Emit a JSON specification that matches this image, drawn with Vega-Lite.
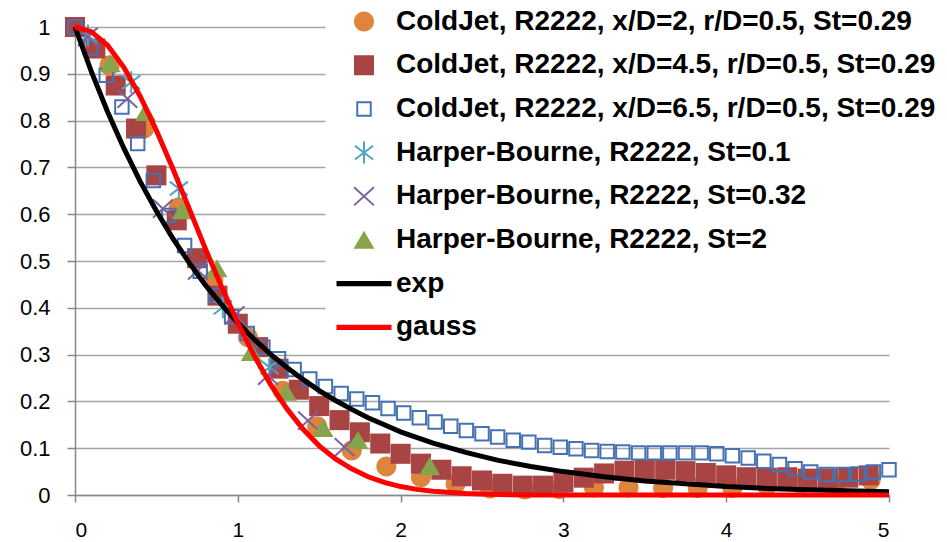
{
  "$schema": "https://vega.github.io/schema/vega-lite/v6.json",
  "width": 814,
  "height": 468,
  "autosize": {"type": "none"},
  "padding": {"left": 75, "top": 27, "right": 58, "bottom": 47},
  "background": "#ffffff",
  "config": {
    "view": {"stroke": null},
    "axis": {"labelFont": "Liberation Sans", "labelFontSize": 22, "labelColor": "#000000", "domainColor": "#878787", "domainWidth": 1.5, "tickColor": "#878787", "tickWidth": 1.5, "gridColor": "#a5a5a5", "gridWidth": 1.5}
  },
  "datasets": {
    "points": [
      {"s": "ColdJet, R2222, x/D=2, r/D=0.5, St=0.29", "x": 0, "y": 1.0},
      {"s": "ColdJet, R2222, x/D=2, r/D=0.5, St=0.29", "x": 0.2125, "y": 0.918},
      {"s": "ColdJet, R2222, x/D=2, r/D=0.5, St=0.29", "x": 0.425, "y": 0.783},
      {"s": "ColdJet, R2222, x/D=2, r/D=0.5, St=0.29", "x": 0.6375, "y": 0.615},
      {"s": "ColdJet, R2222, x/D=2, r/D=0.5, St=0.29", "x": 0.85, "y": 0.459},
      {"s": "ColdJet, R2222, x/D=2, r/D=0.5, St=0.29", "x": 1.0625, "y": 0.337},
      {"s": "ColdJet, R2222, x/D=2, r/D=0.5, St=0.29", "x": 1.275, "y": 0.223},
      {"s": "ColdJet, R2222, x/D=2, r/D=0.5, St=0.29", "x": 1.4875, "y": 0.147},
      {"s": "ColdJet, R2222, x/D=2, r/D=0.5, St=0.29", "x": 1.7, "y": 0.095},
      {"s": "ColdJet, R2222, x/D=2, r/D=0.5, St=0.29", "x": 1.9125, "y": 0.061},
      {"s": "ColdJet, R2222, x/D=2, r/D=0.5, St=0.29", "x": 2.125, "y": 0.038},
      {"s": "ColdJet, R2222, x/D=2, r/D=0.5, St=0.29", "x": 2.3375, "y": 0.024},
      {"s": "ColdJet, R2222, x/D=2, r/D=0.5, St=0.29", "x": 2.55, "y": 0.014},
      {"s": "ColdJet, R2222, x/D=2, r/D=0.5, St=0.29", "x": 2.7625, "y": 0.012},
      {"s": "ColdJet, R2222, x/D=2, r/D=0.5, St=0.29", "x": 2.975, "y": 0.013},
      {"s": "ColdJet, R2222, x/D=2, r/D=0.5, St=0.29", "x": 3.1875, "y": 0.016},
      {"s": "ColdJet, R2222, x/D=2, r/D=0.5, St=0.29", "x": 3.4, "y": 0.016},
      {"s": "ColdJet, R2222, x/D=2, r/D=0.5, St=0.29", "x": 3.6125, "y": 0.015},
      {"s": "ColdJet, R2222, x/D=2, r/D=0.5, St=0.29", "x": 3.825, "y": 0.015},
      {"s": "ColdJet, R2222, x/D=2, r/D=0.5, St=0.29", "x": 4.0375, "y": 0.015},
      {"s": "ColdJet, R2222, x/D=2, r/D=0.5, St=0.29", "x": 4.25, "y": 0.02},
      {"s": "ColdJet, R2222, x/D=2, r/D=0.5, St=0.29", "x": 4.4625, "y": 0.024},
      {"s": "ColdJet, R2222, x/D=2, r/D=0.5, St=0.29", "x": 4.675, "y": 0.026},
      {"s": "ColdJet, R2222, x/D=2, r/D=0.5, St=0.29", "x": 4.8875, "y": 0.032},
      {"s": "ColdJet, R2222, x/D=4.5, r/D=0.5, St=0.29", "x": 0, "y": 1.0},
      {"s": "ColdJet, R2222, x/D=4.5, r/D=0.5, St=0.29", "x": 0.125, "y": 0.954},
      {"s": "ColdJet, R2222, x/D=4.5, r/D=0.5, St=0.29", "x": 0.25, "y": 0.875},
      {"s": "ColdJet, R2222, x/D=4.5, r/D=0.5, St=0.29", "x": 0.375, "y": 0.783},
      {"s": "ColdJet, R2222, x/D=4.5, r/D=0.5, St=0.29", "x": 0.5, "y": 0.683},
      {"s": "ColdJet, R2222, x/D=4.5, r/D=0.5, St=0.29", "x": 0.625, "y": 0.587},
      {"s": "ColdJet, R2222, x/D=4.5, r/D=0.5, St=0.29", "x": 0.75, "y": 0.506},
      {"s": "ColdJet, R2222, x/D=4.5, r/D=0.5, St=0.29", "x": 0.875, "y": 0.426},
      {"s": "ColdJet, R2222, x/D=4.5, r/D=0.5, St=0.29", "x": 1.0, "y": 0.366},
      {"s": "ColdJet, R2222, x/D=4.5, r/D=0.5, St=0.29", "x": 1.125, "y": 0.316},
      {"s": "ColdJet, R2222, x/D=4.5, r/D=0.5, St=0.29", "x": 1.25, "y": 0.27},
      {"s": "ColdJet, R2222, x/D=4.5, r/D=0.5, St=0.29", "x": 1.375, "y": 0.225},
      {"s": "ColdJet, R2222, x/D=4.5, r/D=0.5, St=0.29", "x": 1.5, "y": 0.19},
      {"s": "ColdJet, R2222, x/D=4.5, r/D=0.5, St=0.29", "x": 1.625, "y": 0.16},
      {"s": "ColdJet, R2222, x/D=4.5, r/D=0.5, St=0.29", "x": 1.75, "y": 0.134},
      {"s": "ColdJet, R2222, x/D=4.5, r/D=0.5, St=0.29", "x": 1.875, "y": 0.11},
      {"s": "ColdJet, R2222, x/D=4.5, r/D=0.5, St=0.29", "x": 2.0, "y": 0.088},
      {"s": "ColdJet, R2222, x/D=4.5, r/D=0.5, St=0.29", "x": 2.125, "y": 0.067},
      {"s": "ColdJet, R2222, x/D=4.5, r/D=0.5, St=0.29", "x": 2.25, "y": 0.054},
      {"s": "ColdJet, R2222, x/D=4.5, r/D=0.5, St=0.29", "x": 2.375, "y": 0.04},
      {"s": "ColdJet, R2222, x/D=4.5, r/D=0.5, St=0.29", "x": 2.5, "y": 0.031},
      {"s": "ColdJet, R2222, x/D=4.5, r/D=0.5, St=0.29", "x": 2.625, "y": 0.024},
      {"s": "ColdJet, R2222, x/D=4.5, r/D=0.5, St=0.29", "x": 2.75, "y": 0.02},
      {"s": "ColdJet, R2222, x/D=4.5, r/D=0.5, St=0.29", "x": 2.875, "y": 0.02},
      {"s": "ColdJet, R2222, x/D=4.5, r/D=0.5, St=0.29", "x": 3.0, "y": 0.027},
      {"s": "ColdJet, R2222, x/D=4.5, r/D=0.5, St=0.29", "x": 3.125, "y": 0.037},
      {"s": "ColdJet, R2222, x/D=4.5, r/D=0.5, St=0.29", "x": 3.25, "y": 0.046},
      {"s": "ColdJet, R2222, x/D=4.5, r/D=0.5, St=0.29", "x": 3.375, "y": 0.052},
      {"s": "ColdJet, R2222, x/D=4.5, r/D=0.5, St=0.29", "x": 3.5, "y": 0.054},
      {"s": "ColdJet, R2222, x/D=4.5, r/D=0.5, St=0.29", "x": 3.625, "y": 0.054},
      {"s": "ColdJet, R2222, x/D=4.5, r/D=0.5, St=0.29", "x": 3.75, "y": 0.051},
      {"s": "ColdJet, R2222, x/D=4.5, r/D=0.5, St=0.29", "x": 3.875, "y": 0.047},
      {"s": "ColdJet, R2222, x/D=4.5, r/D=0.5, St=0.29", "x": 4.0, "y": 0.042},
      {"s": "ColdJet, R2222, x/D=4.5, r/D=0.5, St=0.29", "x": 4.125, "y": 0.038},
      {"s": "ColdJet, R2222, x/D=4.5, r/D=0.5, St=0.29", "x": 4.25, "y": 0.037},
      {"s": "ColdJet, R2222, x/D=4.5, r/D=0.5, St=0.29", "x": 4.375, "y": 0.038},
      {"s": "ColdJet, R2222, x/D=4.5, r/D=0.5, St=0.29", "x": 4.5, "y": 0.035},
      {"s": "ColdJet, R2222, x/D=4.5, r/D=0.5, St=0.29", "x": 4.625, "y": 0.035},
      {"s": "ColdJet, R2222, x/D=4.5, r/D=0.5, St=0.29", "x": 4.75, "y": 0.037},
      {"s": "ColdJet, R2222, x/D=4.5, r/D=0.5, St=0.29", "x": 4.875, "y": 0.042},
      {"s": "ColdJet, R2222, x/D=6.5, r/D=0.5, St=0.29", "x": 0, "y": 1.0},
      {"s": "ColdJet, R2222, x/D=6.5, r/D=0.5, St=0.29", "x": 0.096, "y": 0.955},
      {"s": "ColdJet, R2222, x/D=6.5, r/D=0.5, St=0.29", "x": 0.192, "y": 0.897},
      {"s": "ColdJet, R2222, x/D=6.5, r/D=0.5, St=0.29", "x": 0.288, "y": 0.829},
      {"s": "ColdJet, R2222, x/D=6.5, r/D=0.5, St=0.29", "x": 0.385, "y": 0.751},
      {"s": "ColdJet, R2222, x/D=6.5, r/D=0.5, St=0.29", "x": 0.481, "y": 0.672},
      {"s": "ColdJet, R2222, x/D=6.5, r/D=0.5, St=0.29", "x": 0.577, "y": 0.597},
      {"s": "ColdJet, R2222, x/D=6.5, r/D=0.5, St=0.29", "x": 0.673, "y": 0.533},
      {"s": "ColdJet, R2222, x/D=6.5, r/D=0.5, St=0.29", "x": 0.769, "y": 0.478},
      {"s": "ColdJet, R2222, x/D=6.5, r/D=0.5, St=0.29", "x": 0.865, "y": 0.427},
      {"s": "ColdJet, R2222, x/D=6.5, r/D=0.5, St=0.29", "x": 0.962, "y": 0.381},
      {"s": "ColdJet, R2222, x/D=6.5, r/D=0.5, St=0.29", "x": 1.058, "y": 0.345},
      {"s": "ColdJet, R2222, x/D=6.5, r/D=0.5, St=0.29", "x": 1.154, "y": 0.316},
      {"s": "ColdJet, R2222, x/D=6.5, r/D=0.5, St=0.29", "x": 1.25, "y": 0.291},
      {"s": "ColdJet, R2222, x/D=6.5, r/D=0.5, St=0.29", "x": 1.346, "y": 0.268},
      {"s": "ColdJet, R2222, x/D=6.5, r/D=0.5, St=0.29", "x": 1.442, "y": 0.248},
      {"s": "ColdJet, R2222, x/D=6.5, r/D=0.5, St=0.29", "x": 1.538, "y": 0.232},
      {"s": "ColdJet, R2222, x/D=6.5, r/D=0.5, St=0.29", "x": 1.635, "y": 0.217},
      {"s": "ColdJet, R2222, x/D=6.5, r/D=0.5, St=0.29", "x": 1.731, "y": 0.205},
      {"s": "ColdJet, R2222, x/D=6.5, r/D=0.5, St=0.29", "x": 1.827, "y": 0.197},
      {"s": "ColdJet, R2222, x/D=6.5, r/D=0.5, St=0.29", "x": 1.923, "y": 0.185},
      {"s": "ColdJet, R2222, x/D=6.5, r/D=0.5, St=0.29", "x": 2.019, "y": 0.175},
      {"s": "ColdJet, R2222, x/D=6.5, r/D=0.5, St=0.29", "x": 2.115, "y": 0.165},
      {"s": "ColdJet, R2222, x/D=6.5, r/D=0.5, St=0.29", "x": 2.212, "y": 0.156},
      {"s": "ColdJet, R2222, x/D=6.5, r/D=0.5, St=0.29", "x": 2.308, "y": 0.147},
      {"s": "ColdJet, R2222, x/D=6.5, r/D=0.5, St=0.29", "x": 2.404, "y": 0.138},
      {"s": "ColdJet, R2222, x/D=6.5, r/D=0.5, St=0.29", "x": 2.5, "y": 0.131},
      {"s": "ColdJet, R2222, x/D=6.5, r/D=0.5, St=0.29", "x": 2.596, "y": 0.124},
      {"s": "ColdJet, R2222, x/D=6.5, r/D=0.5, St=0.29", "x": 2.692, "y": 0.117},
      {"s": "ColdJet, R2222, x/D=6.5, r/D=0.5, St=0.29", "x": 2.788, "y": 0.113},
      {"s": "ColdJet, R2222, x/D=6.5, r/D=0.5, St=0.29", "x": 2.885, "y": 0.106},
      {"s": "ColdJet, R2222, x/D=6.5, r/D=0.5, St=0.29", "x": 2.981, "y": 0.102},
      {"s": "ColdJet, R2222, x/D=6.5, r/D=0.5, St=0.29", "x": 3.077, "y": 0.099},
      {"s": "ColdJet, R2222, x/D=6.5, r/D=0.5, St=0.29", "x": 3.173, "y": 0.095},
      {"s": "ColdJet, R2222, x/D=6.5, r/D=0.5, St=0.29", "x": 3.269, "y": 0.093},
      {"s": "ColdJet, R2222, x/D=6.5, r/D=0.5, St=0.29", "x": 3.365, "y": 0.092},
      {"s": "ColdJet, R2222, x/D=6.5, r/D=0.5, St=0.29", "x": 3.462, "y": 0.09},
      {"s": "ColdJet, R2222, x/D=6.5, r/D=0.5, St=0.29", "x": 3.558, "y": 0.09},
      {"s": "ColdJet, R2222, x/D=6.5, r/D=0.5, St=0.29", "x": 3.654, "y": 0.09},
      {"s": "ColdJet, R2222, x/D=6.5, r/D=0.5, St=0.29", "x": 3.75, "y": 0.09},
      {"s": "ColdJet, R2222, x/D=6.5, r/D=0.5, St=0.29", "x": 3.846, "y": 0.09},
      {"s": "ColdJet, R2222, x/D=6.5, r/D=0.5, St=0.29", "x": 3.942, "y": 0.088},
      {"s": "ColdJet, R2222, x/D=6.5, r/D=0.5, St=0.29", "x": 4.038, "y": 0.084},
      {"s": "ColdJet, R2222, x/D=6.5, r/D=0.5, St=0.29", "x": 4.135, "y": 0.079},
      {"s": "ColdJet, R2222, x/D=6.5, r/D=0.5, St=0.29", "x": 4.231, "y": 0.072},
      {"s": "ColdJet, R2222, x/D=6.5, r/D=0.5, St=0.29", "x": 4.327, "y": 0.065},
      {"s": "ColdJet, R2222, x/D=6.5, r/D=0.5, St=0.29", "x": 4.423, "y": 0.056},
      {"s": "ColdJet, R2222, x/D=6.5, r/D=0.5, St=0.29", "x": 4.519, "y": 0.049},
      {"s": "ColdJet, R2222, x/D=6.5, r/D=0.5, St=0.29", "x": 4.615, "y": 0.044},
      {"s": "ColdJet, R2222, x/D=6.5, r/D=0.5, St=0.29", "x": 4.712, "y": 0.044},
      {"s": "ColdJet, R2222, x/D=6.5, r/D=0.5, St=0.29", "x": 4.808, "y": 0.045},
      {"s": "ColdJet, R2222, x/D=6.5, r/D=0.5, St=0.29", "x": 4.904, "y": 0.049},
      {"s": "ColdJet, R2222, x/D=6.5, r/D=0.5, St=0.29", "x": 5.0, "y": 0.054},
      {"s": "Harper-Bourne, R2222, St=0.1", "x": 0.079, "y": 0.982},
      {"s": "Harper-Bourne, R2222, St=0.1", "x": 0.345, "y": 0.882},
      {"s": "Harper-Bourne, R2222, St=0.1", "x": 0.638, "y": 0.655},
      {"s": "Harper-Bourne, R2222, St=0.1", "x": 0.908, "y": 0.401},
      {"s": "Harper-Bourne, R2222, St=0.1", "x": 1.195, "y": 0.273},
      {"s": "Harper-Bourne, R2222, St=0.32", "x": 0.079, "y": 0.979},
      {"s": "Harper-Bourne, R2222, St=0.32", "x": 0.322, "y": 0.847},
      {"s": "Harper-Bourne, R2222, St=0.32", "x": 0.54, "y": 0.612},
      {"s": "Harper-Bourne, R2222, St=0.32", "x": 0.755, "y": 0.48},
      {"s": "Harper-Bourne, R2222, St=0.32", "x": 0.98, "y": 0.384},
      {"s": "Harper-Bourne, R2222, St=0.32", "x": 1.185, "y": 0.255},
      {"s": "Harper-Bourne, R2222, St=0.32", "x": 1.431, "y": 0.159},
      {"s": "Harper-Bourne, R2222, St=0.32", "x": 1.656, "y": 0.102},
      {"s": "Harper-Bourne, R2222, St=2", "x": 0.216, "y": 0.922},
      {"s": "Harper-Bourne, R2222, St=2", "x": 0.433, "y": 0.818},
      {"s": "Harper-Bourne, R2222, St=2", "x": 0.659, "y": 0.608},
      {"s": "Harper-Bourne, R2222, St=2", "x": 0.872, "y": 0.484},
      {"s": "Harper-Bourne, R2222, St=2", "x": 1.083, "y": 0.305},
      {"s": "Harper-Bourne, R2222, St=2", "x": 1.298, "y": 0.22},
      {"s": "Harper-Bourne, R2222, St=2", "x": 1.523, "y": 0.143},
      {"s": "Harper-Bourne, R2222, St=2", "x": 1.738, "y": 0.117},
      {"s": "Harper-Bourne, R2222, St=2", "x": 2.179, "y": 0.061}
    ],
    "curves": [
      {"s": "exp", "x": 0, "y": 1.0}, {"s": "exp", "x": 0.1, "y": 0.905}, {"s": "exp", "x": 0.2, "y": 0.819}, {"s": "exp", "x": 0.3, "y": 0.741},
      {"s": "exp", "x": 0.4, "y": 0.67}, {"s": "exp", "x": 0.5, "y": 0.607}, {"s": "exp", "x": 0.6, "y": 0.549}, {"s": "exp", "x": 0.7, "y": 0.497},
      {"s": "exp", "x": 0.8, "y": 0.449}, {"s": "exp", "x": 0.9, "y": 0.407}, {"s": "exp", "x": 1.0, "y": 0.368}, {"s": "exp", "x": 1.1, "y": 0.333},
      {"s": "exp", "x": 1.2, "y": 0.301}, {"s": "exp", "x": 1.3, "y": 0.273}, {"s": "exp", "x": 1.4, "y": 0.247}, {"s": "exp", "x": 1.5, "y": 0.223},
      {"s": "exp", "x": 1.6, "y": 0.202}, {"s": "exp", "x": 1.7, "y": 0.183}, {"s": "exp", "x": 1.8, "y": 0.165}, {"s": "exp", "x": 1.9, "y": 0.15},
      {"s": "exp", "x": 2.0, "y": 0.135}, {"s": "exp", "x": 2.2, "y": 0.111}, {"s": "exp", "x": 2.4, "y": 0.091}, {"s": "exp", "x": 2.6, "y": 0.074},
      {"s": "exp", "x": 2.8, "y": 0.061}, {"s": "exp", "x": 3.0, "y": 0.05}, {"s": "exp", "x": 3.25, "y": 0.039}, {"s": "exp", "x": 3.5, "y": 0.03},
      {"s": "exp", "x": 3.75, "y": 0.024}, {"s": "exp", "x": 4.0, "y": 0.018}, {"s": "exp", "x": 4.25, "y": 0.014}, {"s": "exp", "x": 4.5, "y": 0.011},
      {"s": "exp", "x": 4.75, "y": 0.009}, {"s": "exp", "x": 5.0, "y": 0.007},
      {"s": "gauss", "x": 0, "y": 1.0}, {"s": "gauss", "x": 0.1, "y": 0.99}, {"s": "gauss", "x": 0.2, "y": 0.961}, {"s": "gauss", "x": 0.3, "y": 0.914},
      {"s": "gauss", "x": 0.4, "y": 0.852}, {"s": "gauss", "x": 0.5, "y": 0.779}, {"s": "gauss", "x": 0.6, "y": 0.698}, {"s": "gauss", "x": 0.7, "y": 0.613},
      {"s": "gauss", "x": 0.8, "y": 0.527}, {"s": "gauss", "x": 0.9, "y": 0.445}, {"s": "gauss", "x": 1.0, "y": 0.368}, {"s": "gauss", "x": 1.1, "y": 0.298},
      {"s": "gauss", "x": 1.2, "y": 0.237}, {"s": "gauss", "x": 1.3, "y": 0.185}, {"s": "gauss", "x": 1.4, "y": 0.141}, {"s": "gauss", "x": 1.5, "y": 0.105},
      {"s": "gauss", "x": 1.6, "y": 0.077}, {"s": "gauss", "x": 1.7, "y": 0.056}, {"s": "gauss", "x": 1.8, "y": 0.039}, {"s": "gauss", "x": 1.9, "y": 0.027},
      {"s": "gauss", "x": 2.0, "y": 0.018}, {"s": "gauss", "x": 2.1, "y": 0.012}, {"s": "gauss", "x": 2.2, "y": 0.008}, {"s": "gauss", "x": 2.4, "y": 0.003},
      {"s": "gauss", "x": 2.6, "y": 0.001}, {"s": "gauss", "x": 2.8, "y": 0.0}, {"s": "gauss", "x": 3.5, "y": 0.0}, {"s": "gauss", "x": 4.0, "y": 0.0},
      {"s": "gauss", "x": 4.5, "y": 0.0}, {"s": "gauss", "x": 5.0, "y": 0.0}
    ]
  },
  "layer": [
    {
      "data": {"name": "points"},
      "mark": {"type": "point", "size": 3025, "strokeWidth": 2, "opacity": 1},
      "encoding": {
        "x": {"field": "x", "type": "quantitative", "scale": {"domain": [0, 5], "nice": false},
          "axis": {"title": null, "values": [0, 1, 2, 3, 4, 5], "format": "~g", "grid": false, "tickSize": 7, "labelPadding": 17, "labelFontSize": 21}},
        "y": {"field": "y", "type": "quantitative", "scale": {"domain": [0, 1], "nice": false},
          "axis": {"title": null, "values": [0, 0.1, 0.2, 0.3, 0.4, 0.5, 0.6, 0.7, 0.8, 0.9, 1], "format": "~g", "grid": true, "tickSize": 8, "labelPadding": 17}},
        "shape": {"field": "s", "type": "nominal",
          "scale": {
            "domain": ["ColdJet, R2222, x/D=2, r/D=0.5, St=0.29", "ColdJet, R2222, x/D=4.5, r/D=0.5, St=0.29", "ColdJet, R2222, x/D=6.5, r/D=0.5, St=0.29", "Harper-Bourne, R2222, St=0.1", "Harper-Bourne, R2222, St=0.32", "Harper-Bourne, R2222, St=2", "exp", "gauss"],
            "range": ["M0.364,0A0.364,0.364,0,1,1,-0.364,0A0.364,0.364,0,1,1,0.364,0Z", "M-0.364,-0.364H0.364V0.364H-0.364Z", "M-0.245,-0.245H0.245V0.245H-0.245Z", "M0,-0.4V0.4M-0.33,-0.25L0.33,0.25M-0.33,0.25L0.33,-0.25", "M-0.36,-0.33L0.36,0.33M-0.36,0.33L0.36,-0.33", "M0,-0.34L0.38,0.32H-0.38Z", "M-1,-0.095H1V0.095H-1Z", "M-1,-0.095H1V0.095H-1Z"]
          },
          "legend": {"orient": "none", "legendX": 250.5, "legendY": -29.5, "title": null, "fillColor": "#ffffff", "padding": 10, "labelFont": "Liberation Sans", "labelFontSize": 28, "labelFontWeight": "bold", "labelColor": "#000000", "labelLimit": 1000, "labelOffset": 3.5, "symbolSize": 3025, "symbolStrokeWidth": 2, "rowPadding": 15.7, "clipHeight": 28,
            "encode": {"symbols": {"update": {"fill": {"scale": "fill", "field": "value"}, "stroke": {"scale": "stroke", "field": "value"}, "shape": {"scale": "shape", "field": "value"}, "opacity": {"value": 1}}}}}
        },
        "fill": {"field": "s", "type": "nominal",
          "scale": {
            "domain": ["ColdJet, R2222, x/D=2, r/D=0.5, St=0.29", "ColdJet, R2222, x/D=4.5, r/D=0.5, St=0.29", "ColdJet, R2222, x/D=6.5, r/D=0.5, St=0.29", "Harper-Bourne, R2222, St=0.1", "Harper-Bourne, R2222, St=0.32", "Harper-Bourne, R2222, St=2", "exp", "gauss"],
            "range": ["#de843c", "#a84444", "transparent", "transparent", "transparent", "#87a44b", "#000000", "#ff0000"]
          },
          "legend": {"orient": "none", "legendX": 250.5, "legendY": -29.5, "title": null, "fillColor": "#ffffff", "padding": 10, "labelFont": "Liberation Sans", "labelFontSize": 28, "labelFontWeight": "bold", "labelColor": "#000000", "labelLimit": 1000, "labelOffset": 3.5, "symbolSize": 3025, "symbolStrokeWidth": 2, "rowPadding": 15.7, "clipHeight": 28,
            "encode": {"symbols": {"update": {"fill": {"scale": "fill", "field": "value"}, "stroke": {"scale": "stroke", "field": "value"}, "shape": {"scale": "shape", "field": "value"}, "opacity": {"value": 1}}}}}
        },
        "stroke": {"field": "s", "type": "nominal",
          "scale": {
            "domain": ["ColdJet, R2222, x/D=2, r/D=0.5, St=0.29", "ColdJet, R2222, x/D=4.5, r/D=0.5, St=0.29", "ColdJet, R2222, x/D=6.5, r/D=0.5, St=0.29", "Harper-Bourne, R2222, St=0.1", "Harper-Bourne, R2222, St=0.32", "Harper-Bourne, R2222, St=2", "exp", "gauss"],
            "range": ["transparent", "transparent", "#4572b3", "#4aa6c4", "#7d62a1", "transparent", "transparent", "transparent"]
          },
          "legend": {"orient": "none", "legendX": 250.5, "legendY": -29.5, "title": null, "fillColor": "#ffffff", "padding": 10, "labelFont": "Liberation Sans", "labelFontSize": 28, "labelFontWeight": "bold", "labelColor": "#000000", "labelLimit": 1000, "labelOffset": 3.5, "symbolSize": 3025, "symbolStrokeWidth": 2, "rowPadding": 15.7, "clipHeight": 28,
            "encode": {"symbols": {"update": {"fill": {"scale": "fill", "field": "value"}, "stroke": {"scale": "stroke", "field": "value"}, "shape": {"scale": "shape", "field": "value"}, "opacity": {"value": 1}}}}}
        }
      }
    },
    {
      "data": {"name": "curves"},
      "mark": {"type": "line", "strokeWidth": 5},
      "encoding": {
        "x": {"field": "x", "type": "quantitative"},
        "y": {"field": "y", "type": "quantitative"},
        "color": {"field": "s", "type": "nominal", "scale": {"domain": ["exp", "gauss"], "range": ["#000000", "#ff0000"]}, "legend": null}
      }
    }
  ]
}
